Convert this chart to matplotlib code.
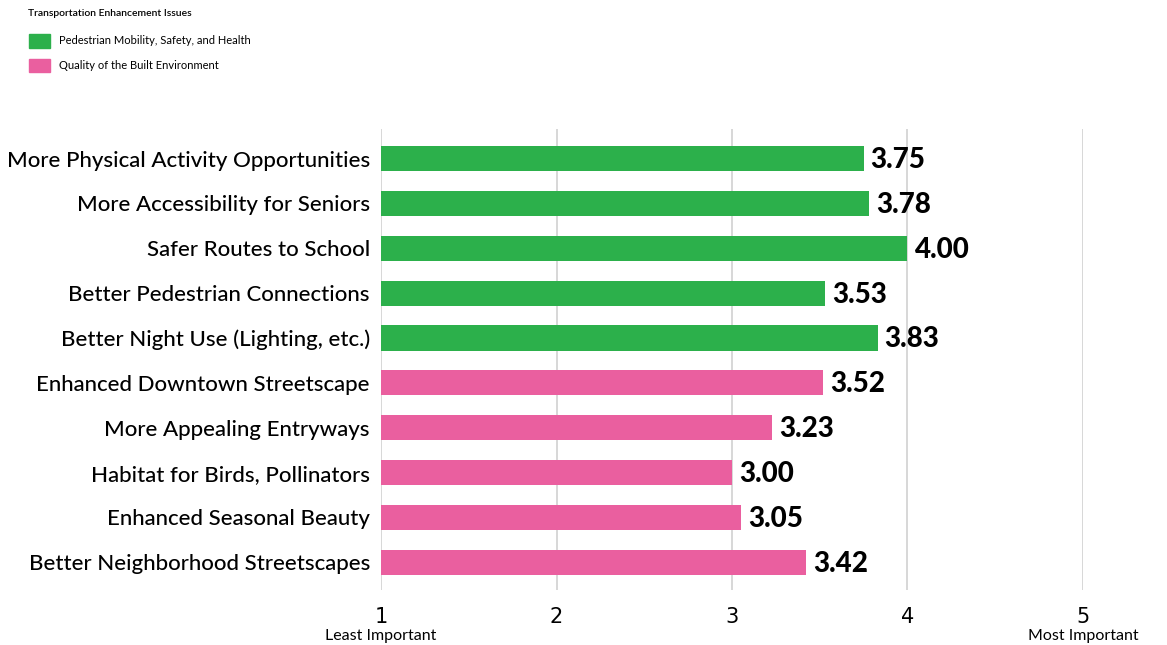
import matplotlib
matplotlib.use("Agg")
from matplotlib import pyplot as plt
from matplotlib.patches import Patch

# survey items, top to bottom
issues = [
    "More Physical Activity Opportunities",
    "More Accessibility for Seniors",
    "Safer Routes to School",
    "Better Pedestrian Connections",
    "Better Night Use (Lighting, etc.)",
    "Enhanced Downtown Streetscape",
    "More Appealing Entryways",
    "Habitat for Birds, Pollinators",
    "Enhanced Seasonal Beauty",
    "Better Neighborhood Streetscapes",
]
scores = [3.75, 3.78, 4.00, 3.53, 3.83, 3.52, 3.23, 3.00, 3.05, 3.42]
groups = ["ped", "ped", "ped", "ped", "ped", "env", "env", "env", "env", "env"]
group_names = {"ped": "Pedestrian Mobility, Safety, and Health",
               "env": "Quality of the Built Environment"}
group_colors = {"ped": "#2cb04b", "env": "#ea5f9f"}
ticks = [1, 2, 3, 4, 5]

fig = plt.figure(figsize=(11.67, 6.45), dpi=100)
ax = fig.add_axes([0.3265, 0.085, 0.928 - 0.3265, 0.715])

pos = list(range(len(issues)))
ax.barh(pos, [s - 1 for s in scores], left=1, height=0.56,
        color=[group_colors[g] for g in groups], zorder=2)

for y, s in zip(pos, scores):
    ax.text(s + 0.04, y + 0.03, f"{s:.2f}", va="center", ha="left",
            fontsize=20, fontweight="black", family="Lato", color="black")

ax.set_xlim(1, 5)
ax.set_ylim(9.62, -0.66)
ax.set_xticks(ticks)
ax.set_xticklabels([str(t) for t in ticks], fontsize=15,
                   family=["Liberation Sans Narrow", "DejaVu Sans"])
ax.set_yticks(pos)
ax.set_yticklabels(issues, fontsize=16, family="Lato", fontweight="medium")
ax.tick_params(axis="y", length=0, pad=8)
ax.tick_params(axis="x", length=0, pad=12)
ax.xaxis.grid(True, color="#d4d4d4", linewidth=1.3, zorder=0)
for sp in ax.spines.values():
    sp.set_visible(False)

# legend block in the top-left corner
fig.text(28 / 1167, 1 - 14 / 645, "Transportation Enhancement Issues",
         fontsize=7.5, family="Lato", fontweight="semibold", va="center", ha="left")
handles = [Patch(color=group_colors[k], label=group_names[k]) for k in ["ped", "env"]]
fig.legend(handles=handles, loc="upper left", bbox_to_anchor=(19 / 1167, 1 - 24 / 645),
           frameon=False, prop={"family": "Lato", "size": 8},
           handlelength=1.9, handleheight=1.5, labelspacing=1.0, handletextpad=0.8)

# end-of-scale captions along the bottom edge
fig.text(381 / 1167, 2 / 645, "Least Important", fontsize=11.5, family="Lato",
         va="bottom", ha="center")
fig.text(1083 / 1167, 2 / 645, "Most Important", fontsize=11.5, family="Lato",
         va="bottom", ha="center")

fig.savefig("out.png", dpi=100)
